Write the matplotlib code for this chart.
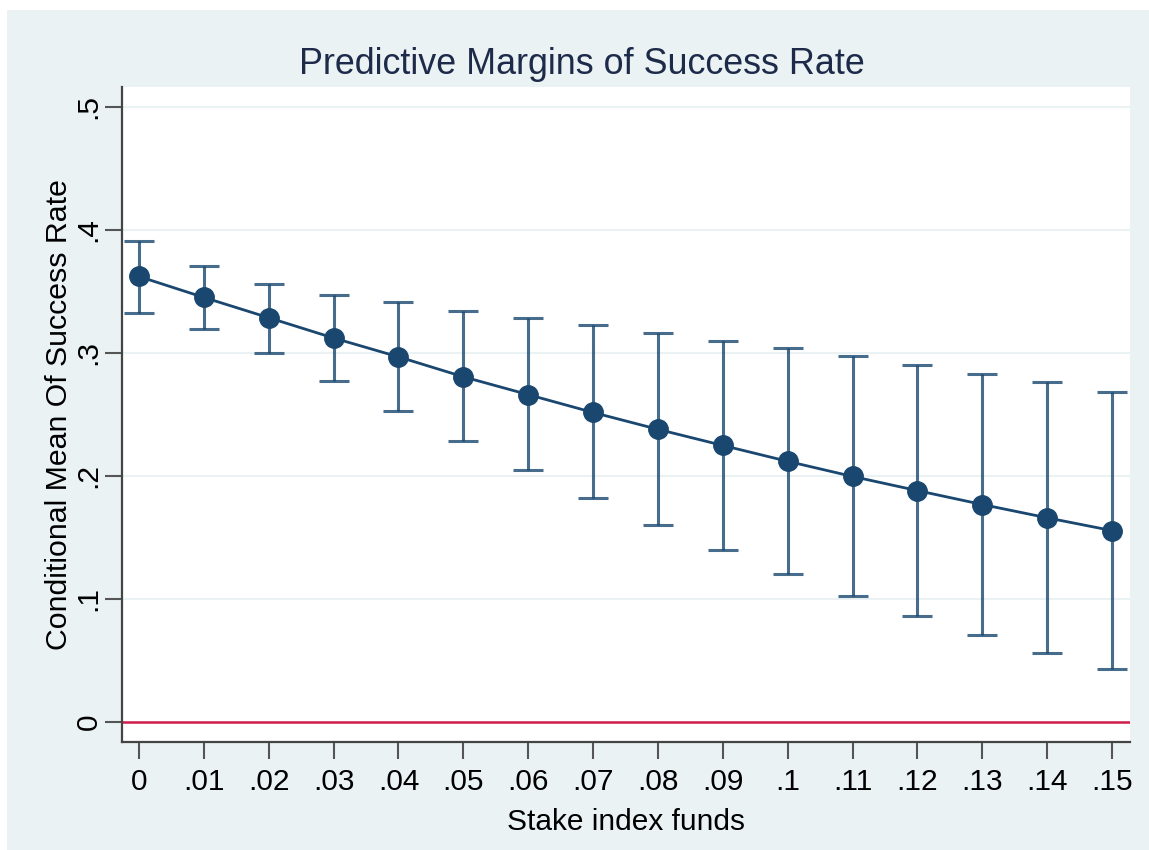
"""Predictive margins plot: success rate against stake in index funds."""

import matplotlib
matplotlib.use("Agg")
import matplotlib.pyplot as plt
from matplotlib.patches import Rectangle
import numpy as np

plt.rcParams["font.family"] = ["Liberation Sans", "DejaVu Sans"]

# Margins with 95% confidence limits
stake = [0, .01, .02, .03, .04, .05, .06, .07, .08, .09, .10, .11, .12, .13, .14, .15]
margin = [0.362, 0.345, 0.3285, 0.312, 0.2967, 0.2805, 0.266, 0.2515, 0.2378,
          0.2247, 0.2118, 0.1995, 0.188, 0.1767, 0.1659, 0.1555]
ci_low = [0.3325, 0.3195, 0.300, 0.277, 0.2528, 0.2285, 0.2049, 0.182, 0.160,
          0.140, 0.120, 0.1025, 0.0860, 0.0705, 0.0560, 0.0430]
ci_high = [0.391, 0.3707, 0.356, 0.347, 0.3412, 0.334, 0.3285, 0.3228, 0.3163,
           0.3098, 0.304, 0.2976, 0.2902, 0.283, 0.2764, 0.2683]

x_ticks = stake
x_labels = ["0", ".01", ".02", ".03", ".04", ".05", ".06", ".07", ".08", ".09",
            ".1", ".11", ".12", ".13", ".14", ".15"]
y_ticks = [0, .1, .2, .3, .4, .5]
y_labels = ["0", ".1", ".2", ".3", ".4", ".5"]

NAVY = "#1A476F"
BG = "#EAF2F3"

fig = plt.figure(figsize=(11.49, 8.5), dpi=100)
fig.patch.set_facecolor(BG)
# thin white strips along the top and left edges
fig.patches.append(Rectangle((0, 0), 7 / 1149, 1, transform=fig.transFigure,
                             facecolor="white", edgecolor="none", zorder=-10))
fig.patches.append(Rectangle((0, 1 - 10 / 850), 1, 10 / 850, transform=fig.transFigure,
                             facecolor="white", edgecolor="none", zorder=-10))

ax = fig.add_axes([122 / 1149, 1 - 742 / 850, 1008 / 1149, 655 / 850])
ax.set_facecolor("white")

margin = np.array(margin)
err = [margin - np.array(ci_low), np.array(ci_high) - margin]
ax.errorbar(stake, margin, yerr=err, fmt="none", ecolor=NAVY, alpha=0.8,
            elinewidth=2.2, capsize=11, capthick=2.2, zorder=2)
ax.plot(stake, margin, color=NAVY, lw=2, marker="o", ms=14, zorder=3)

ax.axhline(0, color="#D01C4A", lw=1.8, zorder=1)
for yv in y_ticks[1:]:
    ax.axhline(yv, color=BG, lw=1.5, zorder=0)

ax.set_xlim(-0.00262, 0.15277)
ax.set_ylim(-0.0163, 0.516)
ax.set_xticks(x_ticks)
ax.set_xticklabels(x_labels, fontsize=21.5)
ax.set_yticks(y_ticks)
ax.set_yticklabels(y_labels, fontsize=21.5, rotation=90, va="center")
ax.tick_params(axis="both", length=12, width=1.5, color="#555555")
ax.tick_params(axis="y", pad=2)
ax.tick_params(axis="x", pad=7)

for side in ("top", "right"):
    ax.spines[side].set_visible(False)
for side in ("left", "bottom"):
    ax.spines[side].set_color("#444444")
    ax.spines[side].set_linewidth(1.6)

ax.set_xlabel("Stake index funds", fontsize=21.5, labelpad=8)
ax.set_ylabel("Conditional Mean Of Success Rate", fontsize=21.8, labelpad=1)
fig.text(582 / 1149, 1 - 65 / 850, "Predictive Margins of Success Rate", fontsize=25.8,
         color="#1E2A4A", ha="center", va="center")

fig.savefig("out.png", dpi=100, facecolor=fig.get_facecolor())
